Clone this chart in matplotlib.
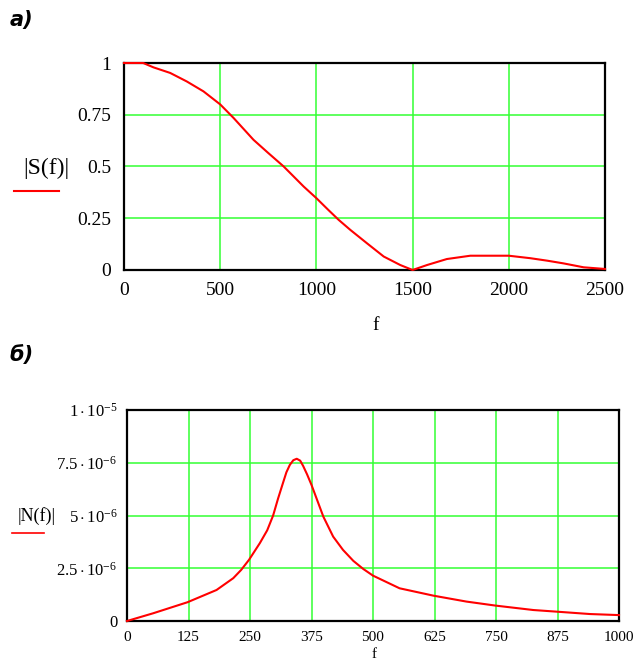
import matplotlib
matplotlib.use("Agg")
import matplotlib.pyplot as plt
from matplotlib.lines import Line2D

plt.rcParams['mathtext.fontset'] = 'custom'
plt.rcParams['mathtext.rm'] = 'Liberation Serif'
plt.rcParams['mathtext.it'] = 'Liberation Serif:italic'

# ---- data (a) |S(f)| ----
s_f = [0, 100, 153, 240, 326, 413, 500, 570, 620, 673, 750, 830, 934, 1000, 1060,
       1116, 1176, 1263, 1350, 1436, 1500, 1575, 1678, 1800, 2000, 2112, 2200,
       2284, 2389, 2500]
s_val = [1.0, 1.0, 0.979, 0.952, 0.911, 0.863, 0.80, 0.734, 0.683, 0.629, 0.565,
         0.50, 0.403, 0.347, 0.292, 0.242, 0.194, 0.129, 0.065, 0.024, 0.0,
         0.024, 0.053, 0.069, 0.069, 0.057, 0.045, 0.032, 0.013, 0.005]
s_xticks = [0, 500, 1000, 1500, 2000, 2500]
s_yticks = [0, 0.25, 0.5, 0.75, 1]
s_yticklabels = ["0", "0.25", "0.5", "0.75", "1"]

# ---- data (б) |N(f)| ----
n_f = [0, 53, 123, 182, 216, 232, 248, 270, 285, 297, 307, 317, 324, 331, 338,
       345, 352, 358, 366, 375, 387, 399, 419, 439, 460, 480, 500, 554, 623,
       690, 749, 826, 875, 941, 1000]
n_val = [0.0, 0.365e-6, 0.89e-6, 1.47e-6, 2.03e-6, 2.42e-6, 2.90e-6, 3.69e-6,
         4.3e-6, 5.0e-6, 5.8e-6, 6.54e-6, 7.05e-6, 7.4e-6, 7.62e-6, 7.69e-6,
         7.6e-6, 7.35e-6, 6.95e-6, 6.45e-6, 5.7e-6, 4.95e-6, 4.0e-6, 3.37e-6,
         2.85e-6, 2.47e-6, 2.15e-6, 1.55e-6, 1.2e-6, 0.92e-6, 0.73e-6, 0.52e-6,
         0.44e-6, 0.33e-6, 0.28e-6]
n_xticks = [0, 125, 250, 375, 500, 625, 750, 875, 1000]
n_yticks = [0, 2.5e-6, 5e-6, 7.5e-6, 1e-5]
n_yticklabels = ["0", r"$2.5\cdot10^{-6}$", r"$5\cdot10^{-6}$",
                 r"$7.5\cdot10^{-6}$", r"$1\cdot10^{-5}$"]

W, H = 637, 664
fig = plt.figure(figsize=(W / 100, H / 100), dpi=100)

serif = 'Liberation Serif'
grid_c = '#33ff33'
red = '#ff0000'


def setup(ax, fx, fy):
    ax.grid(True, color=grid_c, linewidth=1.1)
    ax.set_axisbelow(True)
    for sp in ax.spines.values():
        sp.set_color('black')
        sp.set_linewidth(1.6)
    ax.tick_params(length=0)
    for lab in ax.get_xticklabels():
        lab.set_fontfamily(serif)
        lab.set_fontsize(fx)
    for lab in ax.get_yticklabels():
        lab.set_fontfamily(serif)
        lab.set_fontsize(fy)


# top axes
ax1 = fig.add_axes([124 / W, 1 - 270 / H, 481 / W, 207 / H])
ax1.plot(s_f, s_val, color=red, linewidth=1.5, zorder=3, clip_on=False)
ax1.set_xlim(0, 2500)
ax1.set_ylim(0, 1)
ax1.set_xticks(s_xticks)
ax1.set_yticks(s_yticks)
ax1.set_yticklabels(s_yticklabels)
setup(ax1, 14, 14)
ax1.tick_params(axis='x', pad=9)
ax1.tick_params(axis='y', pad=9)

# bottom axes
ax2 = fig.add_axes([127 / W, 1 - 621 / H, 492 / W, 211 / H])
ax2.plot(n_f, n_val, color=red, linewidth=1.5, zorder=3, clip_on=False)
ax2.set_xlim(0, 1000)
ax2.set_ylim(0, 1e-5)
ax2.set_xticks(n_xticks)
ax2.set_yticks(n_yticks)
ax2.set_yticklabels(n_yticklabels)
setup(ax2, 11, 12)
ax2.tick_params(axis='x', pad=7)
ax2.tick_params(axis='y', pad=7)

# x labels
fig.text(376 / W, 1 - 325 / H, "f", fontfamily=serif, fontsize=14,
         ha='center', va='center')
fig.text(374 / W, 1 - 655 / H, "f", fontfamily=serif, fontsize=11,
         ha='center', va='center')

# y labels with red underline
fig.text(46 / W, 1 - 168 / H, "|S(f)|", fontfamily=serif, fontsize=17,
         ha='center', va='center')
fig.add_artist(Line2D([14 / W, 59 / W], [1 - 191 / H, 1 - 191 / H],
                      color=red, linewidth=1.5, transform=fig.transFigure))
fig.text(37 / W, 1 - 516 / H, "|N(f)|", fontfamily=serif, fontsize=13,
         ha='center', va='center')
fig.add_artist(Line2D([12 / W, 44 / W], [1 - 533 / H, 1 - 533 / H],
                      color=red, linewidth=1.2, transform=fig.transFigure))

# panel labels
fig.text(10 / W, 1 - 20 / H, "а)", fontfamily='DejaVu Sans', fontsize=15,
         fontweight='bold', fontstyle='italic', ha='left', va='center')
fig.text(10 / W, 1 - 355 / H, "б)", fontfamily='DejaVu Sans', fontsize=15,
         fontweight='bold', fontstyle='italic', ha='left', va='center')

fig.savefig("out.png", dpi=100, facecolor='white')
